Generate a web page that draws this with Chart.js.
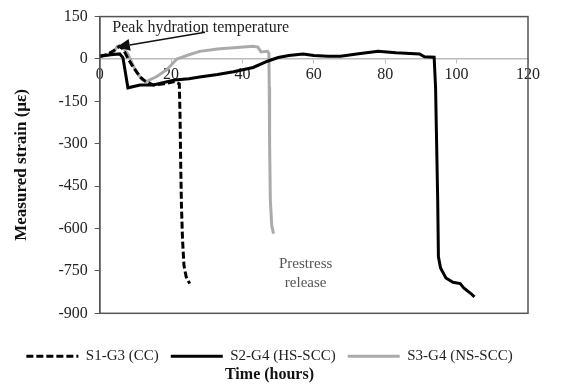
<!DOCTYPE html>
<html><head><meta charset="utf-8">
<script src="https://cdn.jsdelivr.net/npm/chart.js@4"></script>
<style>html,body{margin:0;padding:0;background:#fff}#wrap{width:574px;height:384px}</style>
</head><body><div id="wrap"><canvas id="c"></canvas></div>
<script>
const seriesNames = ['S1-G3 (CC)', 'S2-G4 (HS-SCC)', 'S3-G4 (NS-SCC)'];

const s1Time = [0, 2, 4, 5.5, 6.5, 8, 9.3, 11.3, 12.7, 15, 18, 21, 22.3, 22.5, 22.7, 22.9, 23.2, 23.6, 24.2, 25.2];
const s1Strain = [10, 15, 30, 45, 36, 0, -27, -63, -78, -92, -88, -80, -88, -200, -380, -520, -640, -730, -770, -795];

const s2Time = [0, 3, 5.6, 6.5, 7.9, 11.3, 15, 17.4, 21, 25, 28, 33, 37.5, 43, 47, 50, 53, 57, 60, 64, 67.5, 72, 78, 83, 89.6, 91, 93.7, 94.1, 94.4, 94.7, 94.9, 95.5, 97, 99, 101, 102, 104, 105];
const s2Strain = [10, 15, 18, 5, -102, -92, -92, -85, -74, -70, -64, -55, -45, -30, -8, 5, 12, 18, 12, 10, 10, 18, 27, 22, 18, 8, 6, -100, -300, -500, -700, -740, -775, -790, -795, -810, -830, -842];

const s3Time = [0, 3.4, 5, 6.3, 8, 10, 11.8, 13, 16, 18.8, 21.6, 25, 28, 33, 37.5, 43, 44.3, 45.2, 47, 47.4, 47.5, 47.6, 47.8, 48.2, 48.7];
const s3Strain = [10, 16, 45, 45, 15, -40, -73, -80, -62, -38, 0, 15, 27, 35, 40, 45, 42, 25, 27, 20, -100, -300, -500, -590, -618];

const xTicks = [0, 20, 40, 60, 80, 100, 120];
const yTicks = [150, 0, -150, -300, -450, -600, -750, -900];

const peakLabel = 'Peak hydration temperature';
const peakLabelAt = [28.3, 112];
const peakArrowFrom = [29.5, 95];
const peakArrowTo = [4.8, 42];
const releaseLabel = ['Prestress', 'release'];
const releaseLabelAt = [57.7, -725];

function pts(t, v) { return t.map((x, i) => ({x: x, y: v[i]})); }

const serif = "'Liberation Serif', 'Times New Roman', serif";

const framePlugin = {
  id: 'frame',
  afterDraw(chart) {
    const {ctx, chartArea: a, scales: {x, y}} = chart;
    ctx.save();
    ctx.strokeStyle = '#555';
    ctx.lineWidth = 1.5;
    ctx.strokeRect(a.left, a.top, a.right - a.left, a.bottom - a.top);
    // arrow
    const x1 = x.getPixelForValue(peakArrowFrom[0]), y1 = y.getPixelForValue(peakArrowFrom[1]);
    const x2 = x.getPixelForValue(peakArrowTo[0]), y2 = y.getPixelForValue(peakArrowTo[1]);
    const ang = Math.atan2(y2 - y1, x2 - x1);
    const hl = 13, hw = 6;
    const bx = x2 - hl * Math.cos(ang), by = y2 - hl * Math.sin(ang);
    ctx.strokeStyle = '#111';
    ctx.lineWidth = 1.5;
    ctx.beginPath(); ctx.moveTo(x1, y1); ctx.lineTo(bx, by); ctx.stroke();
    ctx.fillStyle = '#111';
    ctx.beginPath();
    ctx.moveTo(x2, y2);
    ctx.lineTo(bx + hw * Math.sin(ang), by - hw * Math.cos(ang));
    ctx.lineTo(bx - hw * Math.sin(ang), by + hw * Math.cos(ang));
    ctx.closePath(); ctx.fill();
    // annotation text
    ctx.fillStyle = '#222';
    ctx.font = '16px ' + serif;
    ctx.textAlign = 'center';
    ctx.textBaseline = 'middle';
    ctx.fillText(peakLabel, x.getPixelForValue(peakLabelAt[0]), y.getPixelForValue(peakLabelAt[1]));
    ctx.fillStyle = '#555';
    ctx.font = '15px ' + serif;
    const rx = x.getPixelForValue(releaseLabelAt[0]), ry = y.getPixelForValue(releaseLabelAt[1]);
    ctx.fillText(releaseLabel[0], rx, ry);
    ctx.fillText(releaseLabel[1], rx, ry + 19);
    ctx.restore();
  }
};

new Chart(document.getElementById('c'), {
  type: 'line',
  data: {
    datasets: [
      {label: seriesNames[0], data: pts(s1Time, s1Strain), borderColor: '#000', backgroundColor: '#000', borderWidth: 3, borderDash: [7, 3], pointRadius: 0, tension: 0},
      {label: seriesNames[1], data: pts(s2Time, s2Strain), borderColor: '#000', backgroundColor: '#000', borderWidth: 3, pointRadius: 0, tension: 0},
      {label: seriesNames[2], data: pts(s3Time, s3Strain), borderColor: '#aaa', backgroundColor: '#aaa', borderWidth: 3, pointRadius: 0, tension: 0}
    ]
  },
  options: {
    responsive: true,
    maintainAspectRatio: false,
    animation: false,
    layout: {padding: {left: 11, right: 46, top: 15.5, bottom: 0}},
    plugins: {
      tooltip: {enabled: false},
      legend: {
        position: 'bottom',
        title: {display: true, text: '', font: {size: 1}, padding: {top: 22.3, bottom: 0}},
        labels: {
          usePointStyle: true,
          pointStyleWidth: 52,
          boxHeight: 15,
          padding: 12,
          color: '#222',
          font: {family: serif, size: 15},
          generateLabels(chart) {
            return chart.data.datasets.map((d, i) => ({
              text: d.label,
              pointStyle: 'line',
              strokeStyle: d.borderColor,
              fillStyle: d.borderColor,
              lineWidth: 3,
              lineDash: d.borderDash || [],
              datasetIndex: i,
              hidden: false,
              fontColor: '#222'
            }));
          }
        }
      },
      title: {
        display: true,
        position: 'bottom',
        text: 'Time (hours)',
        color: '#111',
        font: {family: serif, size: 16, weight: 'bold'},
        padding: {top: -9, bottom: 0}
      }
    },
    scales: {
      x: {
        type: 'linear',
        position: {y: 0},
        min: 0, max: 120,
        afterBuildTicks(s) { s.ticks = xTicks.map(v => ({value: v})); },
        grid: {drawOnChartArea: false, drawTicks: true, tickLength: 4, color: '#bbb'},
        border: {color: '#bbb', width: 1.5},
        ticks: {color: '#222', font: {family: serif, size: 16}, padding: 2, maxRotation: 0}
      },
      y: {
        min: -900, max: 150,
        afterBuildTicks(s) { s.ticks = yTicks.map(v => ({value: v})); },
        grid: {drawOnChartArea: false, drawTicks: true, tickLength: 5, color: '#555'},
        border: {color: '#555', width: 1.5},
        ticks: {color: '#222', font: {family: serif, size: 16}, padding: 7},
        title: {display: true, text: 'Measured strain (με)', color: '#111', font: {family: serif, size: 17, weight: 'bold'}, padding: {top: 0, bottom: 20}}
      }
    }
  },
  plugins: [framePlugin]
});
</script>
</body></html>
